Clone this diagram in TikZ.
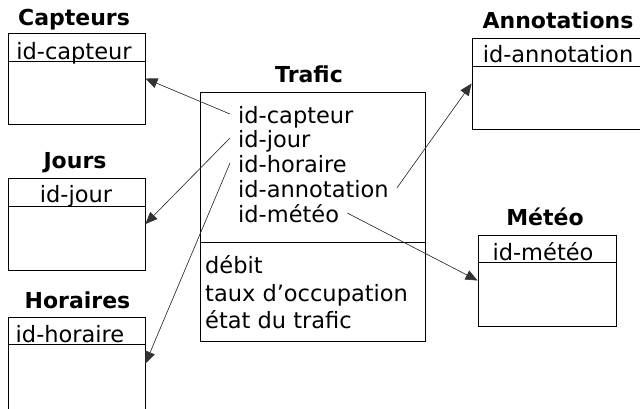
\documentclass[tikz,border=0pt]{standalone}
\usepackage{fontspec}
\setmainfont{DejaVu Sans}
\usepackage{tikz}
\usetikzlibrary{arrows.meta}

\begin{document}
\begin{tikzpicture}[x=1pt,y=-1pt,
  table/.style={draw,line width=.9pt,inner sep=0pt},
  titre/.style={anchor=base,inner sep=0pt,font=\fontsize{22}{26}\selectfont\bfseries},
  cle/.style={anchor=base,inner sep=0pt,font=\fontsize{22.5}{26}\selectfont},
  champ/.style={anchor=base west,inner xsep=8pt,inner ysep=0pt,text height=18pt,text depth=0pt,font=\fontsize{22.5}{26}\selectfont},
  lien/.style={line width=.6pt,draw=black!80,fill=black,-{Triangle[length=12pt,width=10pt]}}]
  \useasboundingbox (0,0) rectangle (640,408);
  \node[table,minimum width=137pt,minimum height=91pt] (capteurs) at (76.5,78.5) {};
  \node[table,minimum width=137pt,minimum height=92pt] (jours) at (76.5,224) {};
  \node[table,minimum width=137pt,minimum height=93pt] (horaires) at (76.5,363.5) {};
  \node[table,minimum width=173pt,minimum height=91pt] (annotations) at (558.5,83.5) {};
  \node[table,minimum width=138pt,minimum height=91pt] (meteo) at (547,280.5) {};
  \node[table,minimum width=225pt,minimum height=249pt] (trafic) at (312.5,216.5) {};
  \draw[line width=.9pt] ([yshift=-29pt]capteurs.north west) -- ([yshift=-29pt]capteurs.north east);
  \draw[line width=.9pt] ([yshift=-29pt]jours.north west) -- ([yshift=-29pt]jours.north east);
  \draw[line width=.9pt] ([yshift=-28pt]horaires.north west) -- ([yshift=-28pt]horaires.north east);
  \draw[line width=.9pt] ([yshift=-29pt]annotations.north west) -- ([yshift=-29pt]annotations.north east);
  \draw[line width=.9pt] ([yshift=-28pt]meteo.north west) -- ([yshift=-28pt]meteo.north east);
  \draw[line width=.9pt] ([yshift=-151pt]trafic.north west) -- ([yshift=-151pt]trafic.north east);
  \node[titre] (tcapteurs) at (74,25) {Capteurs};
  \node[titre] (tjours) at (75,168) {Jours};
  \node[titre] (thoraires) at (77.5,308) {Horaires};
  \node[titre] (tannotations) at (558,28) {Annotations};
  \node[titre] (tmeteo) at (545,225) {Météo};
  \node[titre] (ttrafic) at (309,82) {Trafic};
  \node[cle] (kcapteurs) at (74,59) {id-capteur};
  \node[cle] (kjours) at (76,202) {id-jour};
  \node[cle] (khoraires) at (70,342) {id-horaire};
  \node[cle] (kannotations) at (558,62) {id-annotation};
  \node[cle] (kmeteo) at (543,260) {id-météo};
  \node[champ] (fcapteur) at (230,123) {id-capteur};
  \node[champ] (fjour) at (230,147) {id-jour};
  \node[champ] (fhoraire) at (230,172) {id-horaire};
  \node[champ] (fannotation) at (230,197) {id-annotation};
  \node[champ] (fmeteo) at (230,222) {id-météo};
  \node[champ] (fdebit) at (197,273) {débit};
  \node[champ] (ftaux) at (197,301) {taux d’occupation};
  \node[champ] (fetat) at (197,328) {état du trafic};
  \draw[lien] (fcapteur.west) -- (capteurs.east);
  \draw[lien] (fjour.west) -- (jours.east);
  \draw[lien] (fhoraire.west) -- (horaires.east);
  \draw[lien] (fannotation.east) -- (annotations.west);
  \draw[lien] (fmeteo.east) -- (meteo.west);
\end{tikzpicture}
\end{document}
